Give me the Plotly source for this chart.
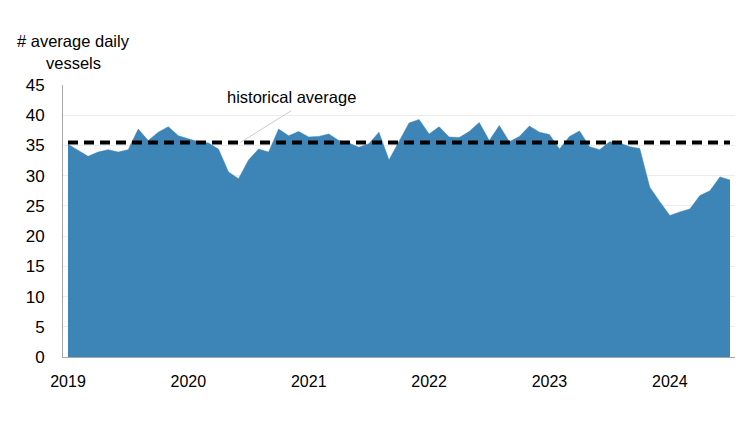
import plotly.graph_objects as go

# monthly average daily vessels, Jan 2019 - Jul 2024
years = [2019, 2020, 2021, 2022, 2023, 2024]
vessels = [
    35.2, 34.2, 33.2, 33.9, 34.3, 33.9, 34.3, 37.7, 35.8, 37.2, 38.1, 36.6,  # 2019
    36.1, 35.6, 35.4, 34.4, 30.6, 29.5, 32.6, 34.4, 33.9, 37.7, 36.6, 37.3,  # 2020
    36.4, 36.5, 36.9, 35.8, 35.4, 34.7, 35.3, 37.2, 32.6, 35.6, 38.7, 39.3,  # 2021
    36.9, 38.1, 36.4, 36.3, 37.3, 38.8, 35.8, 38.3, 35.6, 36.5, 38.2, 37.2,  # 2022
    36.8, 34.4, 36.5, 37.4, 34.8, 34.3, 35.6, 35.4, 34.8, 34.5, 28.1, 25.7,  # 2023
    23.4, 24.0, 24.5, 26.7, 27.5, 29.8, 29.3,                                # 2024
]
historical_avg = 35.5

months = list(range(len(vessels)))
year_ticks = [12 * i for i in range(len(years))]

FONT = "Liberation Sans"
W, H = 742, 414          # page body has an 8px margin
L, R, T, B = 55, 15, 77, 65


def px(x, y):
    # page pixel -> paper coords
    return (x - 8 - L) / (W - L - R), 1 - (y - 8 - T) / (H - T - B)


fig = go.Figure()
fig.add_trace(go.Scatter(
    x=months, y=vessels, mode="lines", fill="tozeroy",
    line=dict(color="#3D84B7", width=0.5), fillcolor="#3D84B7",
    hoverinfo="skip", showlegend=False,
))
fig.add_trace(go.Scatter(
    x=[months[0], months[-1]], y=[historical_avg, historical_avg], mode="lines",
    line=dict(color="black", width=4, dash="10px,6px"),
    hoverinfo="skip", showlegend=False,
))

fig.add_annotation(
    x=17.2, y=historical_avg, ax=22.4, ay=40.9, xref="x", yref="y", axref="x", ayref="y",
    text="", showarrow=True, arrowhead=0, arrowwidth=0.8, arrowcolor="#bfbfbf",
)
fig.add_annotation(
    x=22.3, y=43.0, xref="x", yref="y", text="historical average", showarrow=False,
    font=dict(family=FONT, size=16.5, color="black"),
)
tx, ty = px(15, 30)
fig.add_annotation(
    x=tx, y=ty, xref="paper", yref="paper", xanchor="left", yanchor="top",
    text="# average daily", showarrow=False, font=dict(family=FONT, size=16.5, color="black"),
)
tx, ty = px(44, 52)
fig.add_annotation(
    x=tx, y=ty, xref="paper", yref="paper", xanchor="left", yanchor="top",
    text="vessels", showarrow=False, font=dict(family=FONT, size=16.5, color="black"),
)

fig.update_layout(
    width=W, height=H,
    margin=dict(l=L, r=R, t=T, b=B),
    paper_bgcolor="white", plot_bgcolor="white",
    font=dict(family=FONT, size=16, color="black"),
    xaxis=dict(
        range=[-0.5, 66.5], tickvals=year_ticks, ticktext=[str(y) for y in years],
        showgrid=False, zeroline=False, showline=True, linecolor="#a6a6a6", linewidth=1,
        ticks="", ticklabelstandoff=10, tickfont=dict(size=16),
    ),
    yaxis=dict(
        range=[0, 45], dtick=5, showgrid=True, gridcolor="#ececec", gridwidth=1,
        zeroline=False, showline=True, linecolor="#a6a6a6", linewidth=1,
        ticks="", ticklabelstandoff=14, tickfont=dict(size=17),
    ),
)

fig.write_html("out.html")
